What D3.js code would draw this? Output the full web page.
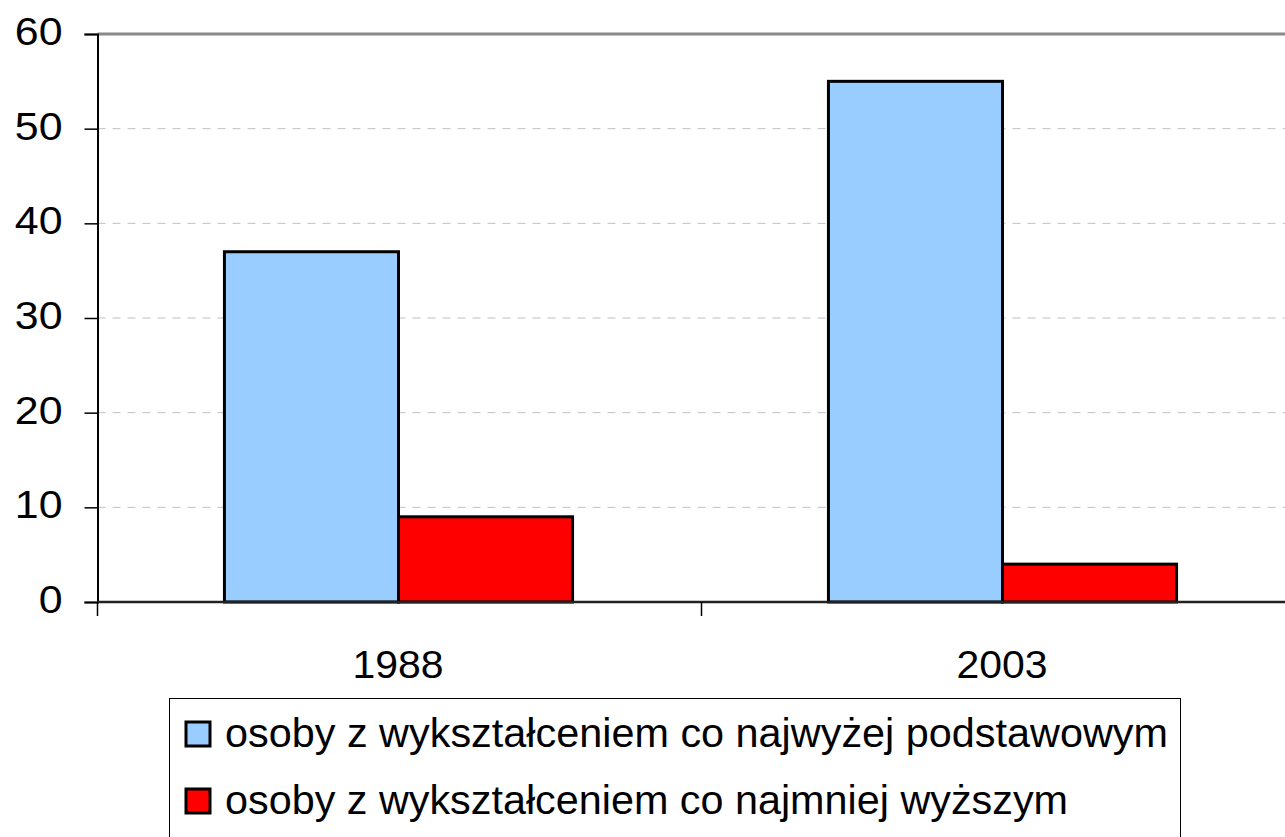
<!DOCTYPE html>
<html><head><meta charset="utf-8">
<script src="https://cdn.jsdelivr.net/npm/d3@7"></script>
<style>html,body{margin:0;padding:0;background:#fff;overflow:hidden}</style>
</head><body>
<script>
const categories = ["1988", "2003"];
const seriesNames = ["osoby z wykształceniem co najwyżej podstawowym", "osoby z wykształceniem co najmniej wyższym"];
const seriesColors = ["#99CCFF", "#FF0000"];
const basicEdu = [37, 55];
const higherEdu = [9, 4];
const yTicks = [0, 10, 20, 30, 40, 50, 60];

(function () {
const W = 1285, H = 837;
const FONT = "'Liberation Sans', Arial, sans-serif";
const svg = d3.select("body").append("svg").attr("width", W).attr("height", H)
  .style("font-family", FONT);

const pLeft = 97.5, pTop = 34, pBottom = 602, pRight = 97.5 + 1208;
const x = d3.scaleBand().domain(categories).range([pLeft, pRight]).padding(0);
const xs = d3.scaleBand().domain([0, 1]).range([0, x.bandwidth()]).paddingInner(0).paddingOuter(0.735);
const y = d3.scaleLinear().domain([0, 60]).range([pBottom, pTop]);

function stretch(sel, k) {
  sel.each(function () {
    const len = this.getComputedTextLength();
    d3.select(this).attr("textLength", len * k).attr("lengthAdjust", "spacingAndGlyphs");
  });
}

// gridlines
svg.append("g").selectAll("line").data(yTicks.filter(t => t > 0 && t < 60)).join("line")
  .attr("x1", pLeft).attr("x2", pRight).attr("y1", d => y(d)).attr("y2", d => y(d))
  .attr("stroke", "#c0c0c0").attr("stroke-width", 1).attr("stroke-dasharray", "8,7");

// top border
svg.append("line").attr("x1", pLeft).attr("x2", pRight).attr("y1", y(60)).attr("y2", y(60))
  .attr("stroke", "#8a8a8a").attr("stroke-width", 3);

// bars
const data = categories.map((c, i) => [basicEdu[i], higherEdu[i]]);
const groups = svg.append("g").selectAll("g").data(data).join("g")
  .attr("transform", (d, i) => `translate(${x(categories[i]) - 1},0)`);
groups.selectAll("rect").data(d => d.map((v, j) => ({v, j}))).join("rect")
  .attr("x", d => xs(d.j)).attr("width", xs.bandwidth())
  .attr("y", d => y(d.v)).attr("height", d => y(0) - y(d.v))
  .attr("fill", d => seriesColors[d.j]).attr("stroke", "#000").attr("stroke-width", 3);

// y axis
const yAxis = d3.axisLeft(y).tickValues(yTicks).tickSize(13).tickPadding(22);
const ga = svg.append("g").attr("transform", `translate(${pLeft},0)`).call(yAxis);
ga.select(".domain").attr("stroke", "#000").attr("stroke-width", 2);
ga.selectAll(".tick line").attr("stroke", "#000").attr("stroke-width", 1.5);
ga.selectAll(".tick text").attr("font-size", 39).attr("fill", "#000")
  .attr("font-family", FONT).attr("dy", "0.27em");
stretch(ga.selectAll(".tick text"), 1.1);

// x axis
const xAxis = d3.axisBottom(x).tickSize(0).tickPadding(0);
const gx = svg.append("g").attr("transform", `translate(0,${pBottom})`).call(xAxis);
gx.select(".domain").remove();
gx.selectAll(".tick text").attr("font-size", 39).attr("fill", "#000")
  .attr("font-family", FONT).attr("y", 76).attr("dy", 0).attr("x", -1.5);
stretch(gx.selectAll(".tick text"), 1.05);
// x axis line and tick marks at band edges
svg.append("line").attr("x1", pLeft).attr("x2", pRight).attr("y1", pBottom).attr("y2", pBottom)
  .attr("stroke", "#222").attr("stroke-width", 2.5);
svg.append("g").selectAll("line").data(categories.concat(["end"])).join("line")
  .attr("x1", (d, i) => pLeft + i * x.step())
  .attr("x2", (d, i) => pLeft + i * x.step())
  .attr("y1", pBottom).attr("y2", pBottom + 14).attr("stroke", "#000").attr("stroke-width", 1.5);

// legend
const lg = svg.append("g");
lg.append("rect").attr("x", 169.5).attr("y", 698.5).attr("width", 1011).attr("height", 160)
  .attr("fill", "#fff").attr("stroke", "#000").attr("stroke-width", 1);
const rows = lg.selectAll("g.row").data(seriesNames).join("g").attr("class", "row")
  .attr("transform", (d, i) => `translate(0,${i * 67})`);
rows.append("rect").attr("x", 186).attr("y", 722).attr("width", 24).attr("height", 24)
  .attr("fill", (d, i) => seriesColors[i]).attr("stroke", "#000").attr("stroke-width", 3);
rows.append("text").attr("x", 225).attr("y", 747).attr("font-size", 40).attr("fill", "#000")
  .attr("textLength", (d, i) => i === 0 ? 943 : 843).attr("lengthAdjust", "spacingAndGlyphs")
  .text(d => d);
})();
</script>
</body></html>
